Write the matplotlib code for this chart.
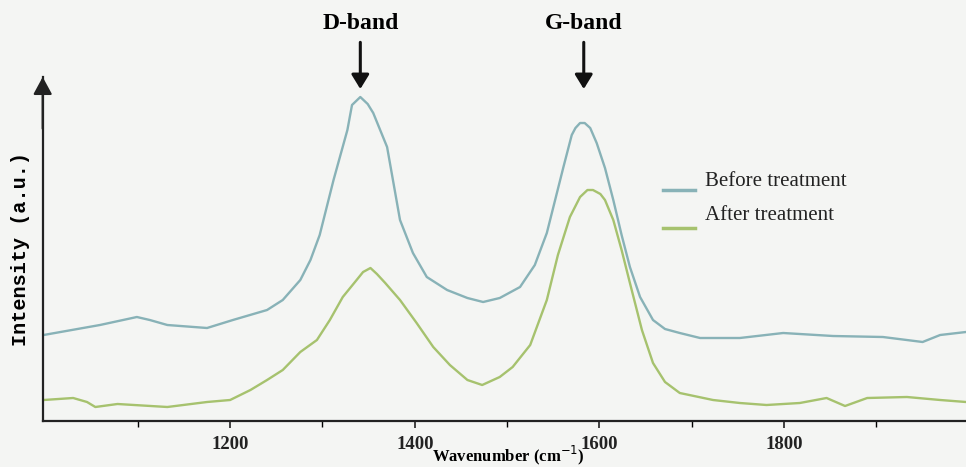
import matplotlib.pyplot as plt
from matplotlib.lines import Line2D

# Raman spectra (arbitrary intensity units)
wn_before = [998, 1059, 1099, 1113, 1132, 1175, 1203, 1240, 1257, 1276, 1287, 1297,
             1312, 1327, 1332, 1341, 1349, 1355, 1370, 1384, 1398, 1413, 1435, 1457,
             1474, 1492, 1514, 1530, 1543, 1552, 1561, 1570, 1574, 1579, 1584, 1590,
             1597, 1606, 1615, 1624, 1633, 1644, 1658, 1671, 1687, 1709, 1752, 1799,
             1853, 1907, 1950, 1969, 1997]
int_before = [86, 96, 104, 101, 96, 93, 101, 111, 121, 141, 161, 186,
              241, 291, 316, 324, 317, 308, 274, 201, 168, 144, 131, 123,
              119, 123, 134, 156, 188, 221, 254, 286, 293, 298, 298, 293,
              278, 253, 221, 186, 154, 124, 101, 92, 88, 83, 83, 88,
              85, 84, 79, 86, 89]

wn_after = [998, 1030, 1045, 1054, 1078, 1132, 1175, 1200, 1222, 1240, 1257, 1276,
            1294, 1308, 1322, 1337, 1344, 1352, 1359, 1368, 1384, 1402, 1420, 1438,
            1457, 1473, 1492, 1506, 1525, 1543, 1555, 1568, 1579, 1587, 1593, 1601,
            1606, 1615, 1624, 1633, 1646, 1658, 1671, 1687, 1723, 1752, 1781, 1817,
            1846, 1866, 1890, 1933, 1969, 1997]
int_after = [21, 23, 19, 14, 17, 14, 19, 21, 31, 41, 51, 69,
             81, 101, 124, 141, 149, 153, 147, 138, 121, 98, 74, 56,
             41, 36, 44, 54, 76, 121, 166, 204, 224, 231, 231, 227,
             221, 201, 171, 138, 91, 58, 39, 28, 21, 18, 16, 18,
             23, 15, 23, 24, 21, 19]

labels = ['Before treatment', 'After treatment']
colors = ['#88b2b7', '#a6c26e']
band_names = ['D-band', 'G-band']
band_pos = [1341, 1583]

serif = 'Liberation Serif'
bg = '#f4f5f3'
W, H = 966, 467

fig = plt.figure(figsize=(9.66, 4.67), dpi=100, facecolor=bg)
ax = fig.add_axes([0.0442, 0.0985, 0.9558, 0.7366], facecolor=bg)

ax.plot(wn_before, int_before, color=colors[0], lw=1.7)
ax.plot(wn_after, int_after, color=colors[1], lw=1.7)

ax.set_xlim(997, 1997)
ax.set_ylim(0, 344)

for s in ['top', 'right']:
    ax.spines[s].set_visible(False)
for s in ['left', 'bottom']:
    ax.spines[s].set_linewidth(1.6)
    ax.spines[s].set_color('#222222')

# arrowhead on y axis
ax.annotate('', xy=(0, 1.0), xytext=(0, 0.85), xycoords='axes fraction',
            arrowprops=dict(arrowstyle='-|>,head_length=0.7,head_width=0.38',
                            color='#222222', lw=1.6,
                            mutation_scale=15, shrinkA=0, shrinkB=0))

ax.set_yticks([])
ax.set_xticks([1200, 1400, 1600, 1800])
ax.set_xticks([1100, 1300, 1500, 1700, 1900], minor=True)
ax.tick_params(axis='x', which='major', direction='out', length=5, width=1.2,
               pad=6, colors='#222222')
ax.tick_params(axis='x', which='minor', direction='out', length=4, width=1.0)
for t in ax.get_xticklabels():
    t.set_fontfamily(serif)
    t.set_fontweight('bold')
    t.set_fontsize(13.5)

ax.set_xlabel('Wavenumber (cm$^{-1}$)', fontfamily=serif, fontweight='bold',
              fontsize=12)
ax.xaxis.set_label_coords(0.504, -0.066)
ax.set_ylabel('Intensity (a.u.)', fontfamily='Liberation Mono', fontweight='bold',
              fontsize=14.5)
ax.yaxis.set_label_coords(-0.0135, 0.5)

# band annotations
for name, pos in zip(band_names, band_pos):
    ax.annotate(name, xy=(pos, 0.965), xycoords=('data', 'axes fraction'),
                xytext=(pos, 1.125), textcoords=('data', 'axes fraction'),
                ha='center', va='bottom', fontfamily=serif, fontweight='bold',
                fontsize=17, annotation_clip=False,
                arrowprops=dict(arrowstyle='-|>,head_length=0.62,head_width=0.38',
                                color='#111111', lw=2.2,
                                mutation_scale=14, shrinkA=4, shrinkB=0))

# legend, placed by hand so the sample line sits below the text like the original
for i, (lab, col) in enumerate(zip(labels, colors)):
    ly = 1 - (190 + 38 * i) / H
    fig.add_artist(Line2D([663 / W, 695 / W], [ly, ly], color=col, lw=2.5))
    fig.text(705 / W, 1 - (181 + 35 * i) / H, lab, fontfamily=serif,
             fontsize=15, va='center', ha='left', color='#222222')

fig.savefig('out.png', dpi=100, facecolor=bg)
